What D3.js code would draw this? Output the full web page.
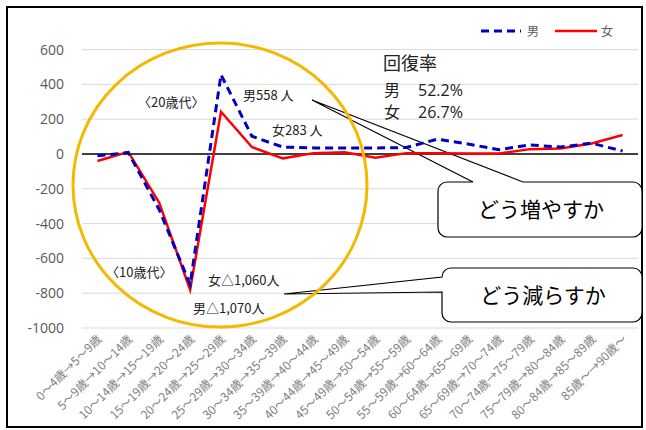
<!DOCTYPE html>
<meta charset="utf-8">
<style>
body {
    margin: 0;
    background: #fff;
    font-family: "Noto Sans CJK JP", "Noto Sans", sans-serif;
}
.grid line {
    stroke: #d9d9d9;
}
.ytick {
    fill: #595959;
    font-family: "Open Sans", sans-serif;
    font-size: 14px;
}
.xtick {
    fill: #808080;
    font-size: 12px;
}
.note {
    fill: #222;
    font-size: 13px;
}
</style>
<body>
<script src="https://d3js.org/d3.v7.min.js"></script>
<script>
var categories = ["0～4歳→5～9歳", "5～9歳→10～14歳", "10～14歳→15～19歳", "15～19歳→20～24歳",
    "20～24歳→25～29歳", "25～29歳→30～34歳", "30～34歳→35～39歳", "35～39歳→40～44歳",
    "40～44歳→45～49歳", "45～49歳→50～54歳", "50～54歳→55～59歳", "55～59歳→60～64歳",
    "60～64歳→65～69歳", "65～69歳→70～74歳", "70～74歳→75～79歳", "75～79歳→80～84歳",
    "80～84歳→85～89歳", "85歳～→90歳～"];
var male   = [-10, 8, -320, -750, 456, 102, 40, 35, 35, 35, 37, 85, 57, 25, 52, 40, 62, 17];
var female = [-40, 12, -280, -780, 243, 40, -25, 5, 10, -22, 5, 5, 3, 3, 28, 32, 60, 109];
var yTicks = [600, 400, 200, 0, -200, -400, -600, -800, -1000];

var width = 646,
    height = 430;

var svg = d3.select("body").append("svg")
    .attr("width", width)
    .attr("height", height);

var x = d3.scalePoint()
    .domain(categories)
    .range([82, 638])
    .padding(0.5);
var y = d3.scaleLinear()
    .domain([-1000, 600])
    .range([328, 49.6]);

// outer frame
svg.append("rect")
    .attr("x", 7).attr("y", 7)
    .attr("width", 635).attr("height", 420)
    .attr("fill", "#fff")
    .attr("stroke", "#000")
    .attr("stroke-width", 2);

// grid
svg.append("g")
    .attr("class", "grid")
    .selectAll("line")
    .data(yTicks.filter(function(d) { return d !== 0; }))
    .enter()
    .append("line")
    .attr("x1", 82).attr("x2", 638)
    .attr("y1", function(d) { return y(d); })
    .attr("y2", function(d) { return y(d); });

svg.append("g")
    .selectAll("text")
    .data(yTicks)
    .enter()
    .append("text")
    .attr("class", "ytick")
    .attr("x", 64)
    .attr("y", function(d) { return y(d) + 5; })
    .attr("text-anchor", "end")
    .text(function(d) { return d; });

svg.append("g")
    .selectAll("text")
    .data(categories)
    .enter()
    .append("text")
    .attr("class", "xtick")
    .attr("text-anchor", "end")
    .attr("transform", function(d) {
        return "translate(" + (x(d) + 5) + ",340) rotate(-45)";
    })
    .text(function(d) { return d; });

// callouts (white boxes with wedge pointers)
function callout(bx, by, bw, bh, r, wedge) {
    var p = d3.path();
    if (wedge.side === "top") {
        p.moveTo(bx + r, by);
        p.lineTo(wedge.a, by);
        p.lineTo(wedge.px, wedge.py);
        p.lineTo(wedge.b, by);
        p.lineTo(bx + bw - r, by);
    } else {
        p.moveTo(bx + r, by);
        p.lineTo(bx + bw - r, by);
    }
    p.arcTo(bx + bw, by, bx + bw, by + r, r);
    p.lineTo(bx + bw, by + bh - r);
    p.arcTo(bx + bw, by + bh, bx + bw - r, by + bh, r);
    p.lineTo(bx + r, by + bh);
    p.arcTo(bx, by + bh, bx, by + bh - r, r);
    if (wedge.side === "left") {
        p.lineTo(bx, wedge.b);
        p.lineTo(wedge.px, wedge.py);
        p.lineTo(bx, wedge.a);
    }
    p.lineTo(bx, by + r);
    p.arcTo(bx, by, bx + r, by, r);
    p.closePath();
    return p.toString();
}

svg.append("path")
    .attr("d", callout(438, 182, 204, 55, 9, {side: "top", a: 473, b: 523, px: 312, py: 100}))
    .attr("fill", "#fff")
    .attr("stroke", "#000")
    .attr("stroke-width", 1.2);
svg.append("path")
    .attr("d", callout(442, 268, 200, 54, 9, {side: "left", a: 277, b: 292, px: 284, py: 294}))
    .attr("fill", "#fff")
    .attr("stroke", "#000")
    .attr("stroke-width", 1.2);

svg.append("text")
    .attr("x", 541).attr("y", 217)
    .attr("text-anchor", "middle")
    .style("font-size", "21px")
    .text("どう増やすか");
svg.append("text")
    .attr("x", 543).attr("y", 303)
    .attr("text-anchor", "middle")
    .style("font-size", "21px")
    .text("どう減らすか");

// zero line
svg.append("line")
    .attr("x1", 82).attr("x2", 638)
    .attr("y1", y(0)).attr("y2", y(0))
    .attr("stroke", "#000")
    .attr("stroke-width", 1.5);

var line = d3.line()
    .x(function(d, i) { return x(categories[i]); })
    .y(function(d) { return y(d); });

svg.append("path")
    .datum(female)
    .attr("d", line)
    .attr("fill", "none")
    .attr("stroke", "#ff0000")
    .attr("stroke-width", 2.5);

svg.append("path")
    .datum(male)
    .attr("d", line)
    .attr("fill", "none")
    .attr("stroke", "#0000c0")
    .attr("stroke-width", 3)
    .attr("stroke-dasharray", "8,5");

// highlight circle
svg.append("ellipse")
    .attr("cx", 220).attr("cy", 185)
    .attr("rx", 147).attr("ry", 142)
    .attr("fill", "none")
    .attr("stroke", "#f5b800")
    .attr("stroke-width", 3);

// legend
var legend = svg.append("g").style("font-size", "12px");
legend.append("line")
    .attr("x1", 481).attr("x2", 521).attr("y1", 31).attr("y2", 31)
    .attr("stroke", "#0000c0").attr("stroke-width", 3).attr("stroke-dasharray", "8,5");
legend.append("text").attr("x", 527).attr("y", 36).attr("fill", "#595959").text("男");
legend.append("line")
    .attr("x1", 555).attr("x2", 597).attr("y1", 31).attr("y2", 31)
    .attr("stroke", "#ff0000").attr("stroke-width", 2.5);
legend.append("text").attr("x", 601).attr("y", 36).attr("fill", "#595959").text("女");

// annotations
var notes = [
    {t: "〈20歳代〉", x: 138, y: 107},
    {t: "男558 人", x: 243, y: 100},
    {t: "女283 人", x: 272, y: 135},
    {t: "〈10歳代〉", x: 106, y: 277},
    {t: "女△1,060人", x: 208, y: 285},
    {t: "男△1,070人", x: 193, y: 313}
];
svg.append("g")
    .selectAll("text")
    .data(notes)
    .enter()
    .append("text")
    .attr("class", "note")
    .attr("x", function(d) { return d.x; })
    .attr("y", function(d) { return d.y; })
    .text(function(d) { return d.t; });

var rate = svg.append("g").style("font-size", "16px").attr("fill", "#222");
rate.append("text").attr("x", 383).attr("y", 70).style("font-size", "18px").text("回復率");
rate.append("text").attr("x", 384).attr("y", 96).text("男");
rate.append("text").attr("x", 418).attr("y", 96).style("font-family", "'Open Sans', sans-serif").text("52.2%");
rate.append("text").attr("x", 384).attr("y", 118).text("女");
rate.append("text").attr("x", 418).attr("y", 118).style("font-family", "'Open Sans', sans-serif").text("26.7%");
</script>
</body>
